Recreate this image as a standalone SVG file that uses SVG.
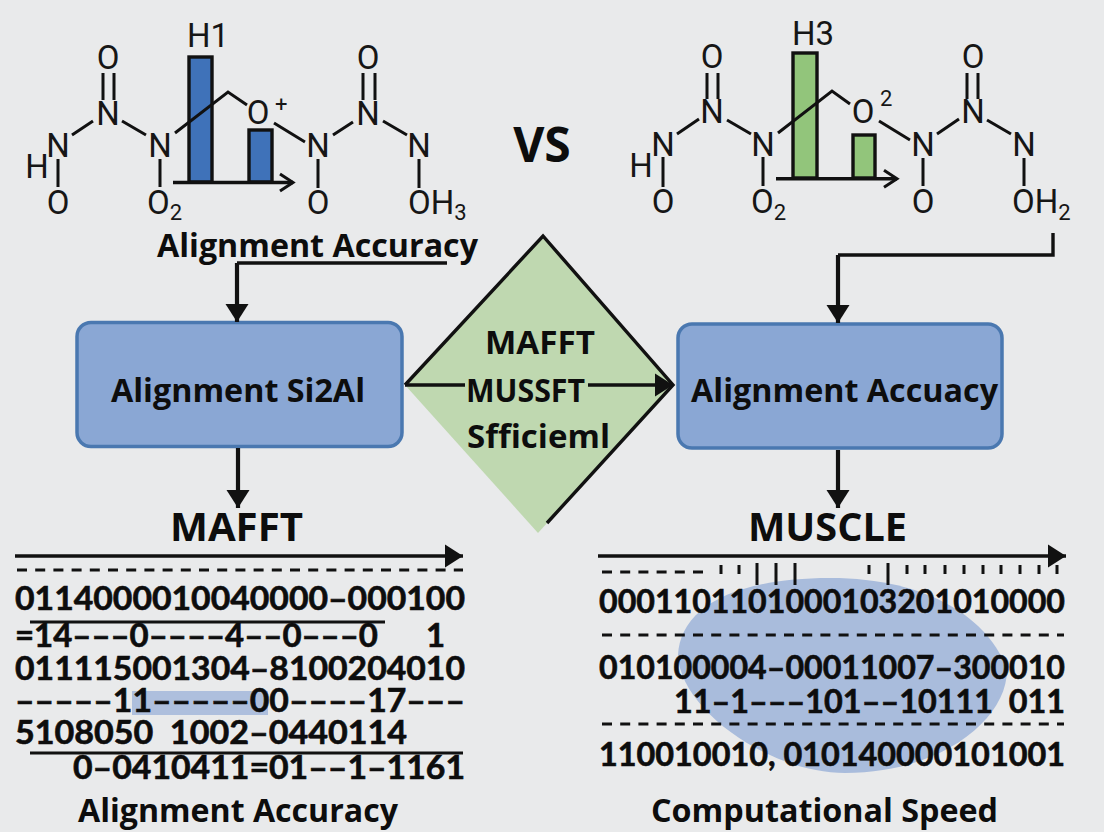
<svg xmlns="http://www.w3.org/2000/svg" width="1104" height="832" viewBox="0 0 1104 832">
<style>
.m{font-family:Roboto,"Liberation Sans",sans-serif;font-size:33px;fill:#161616}
.s{font-size:22px}
.sup{font-size:22px}
.b{font-family:"Open Sans","Noto Sans",sans-serif;font-weight:700;fill:#0d0d0d}
.h{font-size:33px}
.t{font-size:33px}
.big{font-size:40px}
.r{font-family:Lato,"Open Sans",sans-serif;font-size:32px;font-weight:700;fill:#0d0d0d;stroke:#0d0d0d;stroke-width:.6px}
.l{stroke:#111;stroke-width:3;fill:none}
.d{stroke:#111;stroke-width:3;fill:none;stroke-dasharray:10 8.2}
.c{stroke:#111;stroke-width:3.4;fill:none}
.v{stroke:#111;stroke-width:4.200;fill:none}
.bar1{fill:#3f72b9;stroke:#111;stroke-width:3.4}
.bar2{fill:#92c57b;stroke:#111;stroke-width:3.4}
.box{fill:#8aa7d4;stroke:#4a78b0;stroke-width:3.5}
</style>
<defs>
<marker id="open" markerUnits="userSpaceOnUse" markerWidth="18" markerHeight="22" refX="15" refY="11" orient="auto"><path d="M2 2.500L15 11L2 19.500" fill="none" stroke="#111" stroke-width="3"/></marker>
<marker id="fill" markerUnits="userSpaceOnUse" markerWidth="20" markerHeight="24" refX="18" refY="12" orient="auto"><path d="M0 .5L18 12L0 23.500Z" fill="#111"/></marker>
</defs>
<rect width="1104" height="832" fill="#e9eaeb"/>

<g id="molecule-left">
<rect class="bar1" x="189" y="57" width="23" height="125"/>
<rect class="bar1" x="249" y="130" width="23" height="52"/>
<path class="l" d="M103 73V100M114 73V100M72 135L93 121M122 121L146 135M58 159V187M160 159V187M175 133L228 92L247 105M274 123L305 142M318 159V188M333 135L353 122M363 73V100M375 73V100M383 121L407 135M419 159V188"/>
<path class="c" d="M173 182.500H293" marker-end="url(#open)"/>
<g class="m" text-anchor="middle">
<text x="208" y="47">H1</text>
<text x="108" y="69">O</text><text x="108" y="125">N</text><text x="58" y="157">N</text><text x="37" y="178">H</text><text x="58" y="214">O</text>
<text x="160" y="157">N</text><text x="258" y="124">O</text><text x="318" y="157">N</text><text x="318" y="214">O</text><text x="368" y="125">N</text><text x="368" y="69">O</text><text x="419" y="157">N</text>
</g>
<text class="m" x="147" y="214">O<tspan class="s" dy="6">2</tspan></text>
<text class="m sup" x="275" y="112">+</text>
<text class="m" x="408" y="214">OH<tspan class="s" dy="6">3</tspan></text>
</g>

<g id="molecule-right">
<rect class="bar2" x="793" y="53" width="24" height="125"/>
<rect class="bar2" x="853" y="135" width="22" height="43"/>
<path class="l" d="M707 73V99M718 73V99M677 134L699 119M727 120L751 134M663 157V187M763 157V186M778 133L832 91L850 104M879 121L910 140M923 158V186M937 134L959 119M967 73V99M978 73V99M987 120L1011 134M1024 158V186"/>
<path class="c" d="M776 178.700H897" marker-end="url(#open)"/>
<g class="m" text-anchor="middle">
<text x="813" y="45">H3</text>
<text x="712" y="68">O</text><text x="712" y="123">N</text><text x="663" y="156">N</text><text x="641" y="177">H</text><text x="663" y="213">O</text>
<text x="763" y="156">N</text><text x="863" y="123">O</text><text x="923" y="156">N</text><text x="923" y="213">O</text><text x="973" y="123">N</text><text x="973" y="68">O</text><text x="1024" y="156">N</text>
</g>
<text class="m" x="751" y="213">O<tspan class="s" dy="7">2</tspan></text>
<text class="m sup" x="880" y="106">2</text>
<text class="m" x="1012" y="213">OH<tspan class="s" dy="7">2</tspan></text>
</g>

<text id="vs" class="b" x="542" y="162" text-anchor="middle" font-size="48">VS</text>

<g id="label-left"><text class="b h" x="157" y="257" textLength="321" lengthAdjust="spacingAndGlyphs">Alignment Accuracy</text></g>

<g id="box-left">
<rect class="box" x="77" y="322.500" width="325" height="124" rx="14"/>
<text class="b h" x="111" y="402" textLength="254" lengthAdjust="spacingAndGlyphs">Alignment Si2Al</text>
</g>

<g id="box-right">
<rect class="box" x="678" y="324" width="324" height="124" rx="14"/>
<text class="b h" x="691" y="402" textLength="307" lengthAdjust="spacingAndGlyphs">Alignment Accuacy</text>
</g>

<g id="diamond">
<path d="M543 236L673 385L538 533L405 385Z" fill="#bfd8b0"/>
<path class="c" d="M405 385L543 236L673 385L547 523"/>
</g>

<g id="connectors">
<path class="c" d="M447 263H237"/>
<path class="v" d="M237 263V322" marker-end="url(#fill)"/>
<path class="c" d="M1053 233V255H838"/>
<path class="v" d="M838 255V323" marker-end="url(#fill)"/>
<path class="v" d="M238 448V508" marker-end="url(#fill)"/>
<path class="v" d="M838 450V508" marker-end="url(#fill)"/>
<path class="c" d="M405 385H465M588 385H673" marker-end="url(#fill)"/>
<path class="c" d="M15 556H463" marker-end="url(#fill)"/>
<path class="c" d="M598 556H1066" marker-end="url(#fill)"/>
</g>

<g id="diamond-text">
<text class="b t" x="485" y="354" textLength="110" lengthAdjust="spacingAndGlyphs">MAFFT</text>
<text class="b t" x="466" y="402" textLength="119" lengthAdjust="spacingAndGlyphs">MUSSFT</text>
<text class="b t" x="467" y="448" textLength="143" lengthAdjust="spacingAndGlyphs">Sfficieml</text>
</g>

<g id="mafft">
<text class="b big" x="170" y="541" textLength="133" lengthAdjust="spacingAndGlyphs">MAFFT</text>
<rect x="132" y="691" width="136" height="24" fill="#aebfdd"/>
<path class="d" d="M17 570H463"/>
<path class="l" d="M30 622H385M30 753H463"/>
<g class="r">
<text x="15" y="610" textLength="450" lengthAdjust="spacingAndGlyphs">0114000010040000–000100</text>
<text x="15" y="647" textLength="430" lengthAdjust="spacingAndGlyphs">=14–––0––––4––0–––0&#160;&#160;&#160;&#160;&#160;&#160;1</text>
<text x="15" y="680" textLength="450" lengthAdjust="spacingAndGlyphs">011115001304–8100204010</text>
<text x="15" y="712" textLength="450" lengthAdjust="spacingAndGlyphs">–––––11–––––00––––17–––</text>
<text x="15" y="744" textLength="392" lengthAdjust="spacingAndGlyphs">5108050&#160;&#160;1002–0440114</text>
<text x="73" y="779" textLength="392" lengthAdjust="spacingAndGlyphs">0–0410411=01––1–1161</text>
</g>
<text class="b h" x="78" y="822" textLength="320" lengthAdjust="spacingAndGlyphs">Alignment Accuracy</text>
</g>

<g id="muscle">
<text class="b big" x="748" y="541" textLength="159" lengthAdjust="spacingAndGlyphs">MUSCLE</text>
<path d="M678 655C680 610 730 578 830 578C930 578 990 620 1007 670C1007 720 940 773 845 773C770 773 680 710 678 655Z" fill="#a9bcdc"/>
<path class="d" d="M602 572H708M602 635H1064M602 724H1064"/>
<path class="l" d="M721 565V574M739 565V574M757 563V585M776 563V585M795 563V585M869 565V574M888 563V585M907 565V574M925 565V574M945 565V574M964 565V574M983 565V574M1001 565V574M1020 565V574M1039 565V574M1057 565V574"/>
<g class="r">
<text x="599" y="613" textLength="466" lengthAdjust="spacingAndGlyphs">0001101101000103201010000</text>
<text x="599" y="679" textLength="466" lengthAdjust="spacingAndGlyphs">010100004–00011007–300010</text>
<text x="674" y="713" textLength="391" lengthAdjust="spacingAndGlyphs">11–1–––101––10111&#160;&#160;011</text>
<text x="599" y="766" textLength="466" lengthAdjust="spacingAndGlyphs">110010010,&#160;010140000101001</text>
</g>
<text class="b h" x="651" y="822" textLength="347" lengthAdjust="spacingAndGlyphs">Computational Speed</text>
</g>
</svg>
